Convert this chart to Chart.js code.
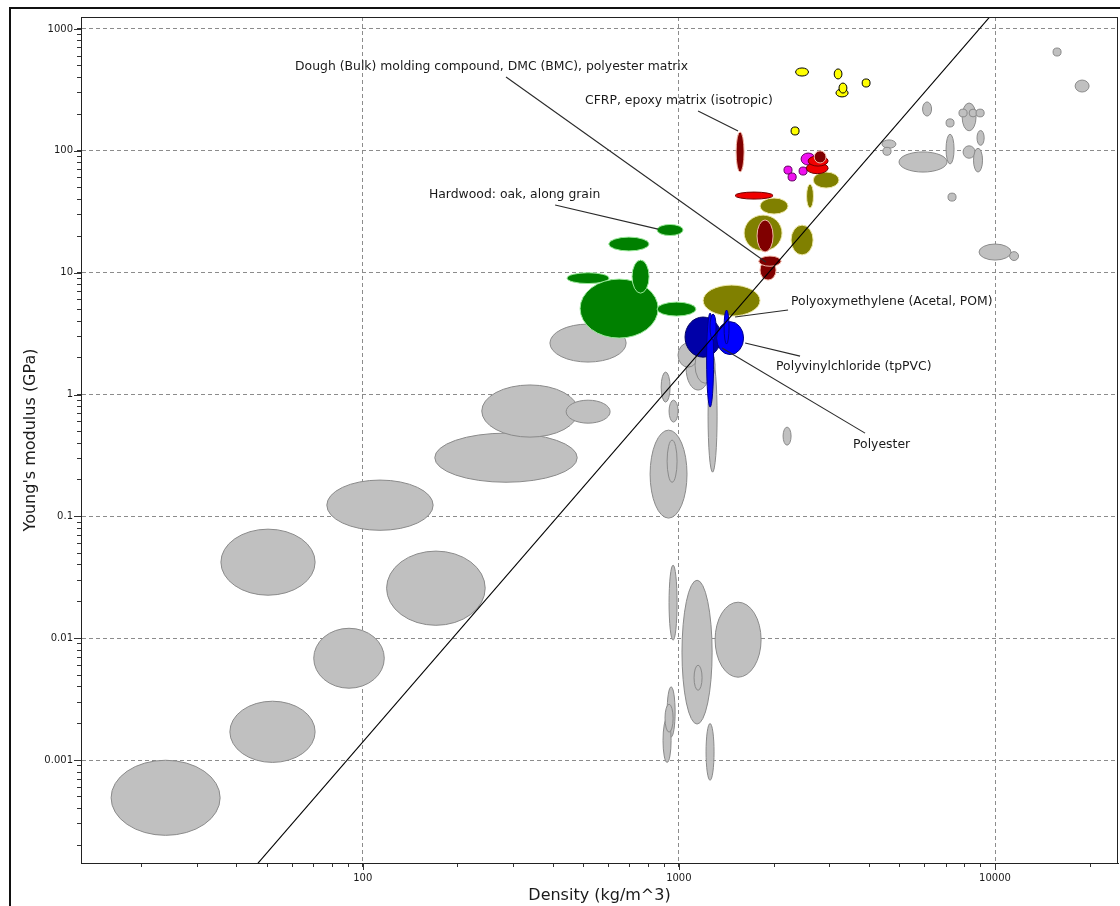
<!DOCTYPE html>
<html>
<head>
<meta charset="utf-8">
<script src="https://cdn.jsdelivr.net/npm/chart.js@4.4.1/dist/chart.umd.min.js"></script>
<style>
  html, body { margin: 0; padding: 0; background: #fff; overflow: hidden; }
  #wrap { position: relative; width: 1120px; height: 906px; }
  #frame { position: absolute; left: 9px; top: 7px; width: 1125px; height: 915px;
           border: 2px solid #111; box-sizing: border-box; pointer-events: none; }
</style>
</head>
<body>
<div id="wrap">
  <canvas id="chart" width="1120" height="906"></canvas>
  <div id="frame"></div>
</div>
<script>
// density ranges (kg/m^3) and Young's modulus ranges (GPa), one pair per material bubble
const otherDensity = [[16, 35.4], [38, 70.7], [70, 117], [35.6, 70.7], [119, 244], [77, 167], [169, 477],
  [238, 480], [440, 606], [391, 681], [811, 1061], [918, 987], [879, 938], [931, 994], [1237, 1321],
  [1054, 1255], [994, 1150], [1125, 1302], [2136, 2264], [931, 987], [1023, 1274], [1117, 1184],
  [1302, 1820], [918, 973], [891, 945], [904, 959], [1219, 1292], [15260, 16180], [17920, 19840],
  [5900, 6300], [7000, 7420], [7870, 8710], [7690, 8160], [8280, 8770], [8710, 9240], [8770, 9240],
  [7000, 7420], [7925, 8650], [8550, 9130], [4970, 7050], [4390, 4860], [4420, 4690], [7100, 7530],
  [8900, 11240], [11120, 11870]];
const otherModulus = [[0.000242, 0.001], [0.00096, 0.00305], [0.0039, 0.0121], [0.0226, 0.0787],
  [0.0128, 0.052], [0.077, 0.199], [0.191, 0.483], [0.448, 1.2], [0.583, 0.9], [1.85, 3.79],
  [0.097, 0.511], [0.191, 0.423], [0.868, 1.53], [0.595, 0.9], [0.231, 1.92], [1.09, 2.5],
  [1.68, 2.65], [1.24, 2.45], [0.385, 0.541], [0.00966, 0.0399], [0.00198, 0.03], [0.00375, 0.00602],
  [0.0048, 0.0198], [0.00155, 0.004], [0.00096, 0.0022], [0.0017, 0.00288], [0.000685, 0.002],
  [600, 698], [304, 381], [193, 252], [157, 183], [146, 247], [190, 220], [190, 220], [190, 220],
  [111, 147], [78, 137], [87, 110], [67, 105], [67, 98], [105, 123], [92, 107], [38.7, 45],
  [12.7, 17.2], [12.6, 14.9]];

const woodDensity = [[443, 601], [487, 860], [711, 805], [853, 1133], [600, 805], [853, 1031]];
const woodModulus = [[8.15, 10.0], [2.91, 8.87], [6.8, 12.7], [4.41, 5.74], [15.1, 19.6], [20.2, 24.9]];

const oliveDensity = [[1193, 1806], [1806, 2215], [1608, 2120], [2264, 2658], [2535, 2665], [2660, 3210]];
const oliveModulus = [[4.41, 7.92], [30.3, 41], [15.1, 29.7], [14, 24.6], [33.9, 53.4], [49.5, 67]];

const magentaDensity = [[2435, 2700], [2150, 2280], [2215, 2350], [2400, 2545]];
const magentaModulus = [[76.5, 96], [64.5, 75], [56.6, 65.8], [63.3, 73.7]];

const redDensity = [[1506, 1986], [2530, 2965], [2563, 2965]];
const redModulus = [[40.2, 45.9], [65, 80], [75, 91]];

const maroonDensity = [[1517, 1608], [1767, 1986], [1806, 2030], [1790, 2105], [2680, 2920]];
const maroonModulus = [[67, 143], [14.8, 27.1], [8.7, 12.7], [11.3, 13.7], [79.5, 100]];

const yellowDensity = [[2340, 2570], [3100, 3280], [3800, 4025], [3140, 3430], [3210, 3400], [2264, 2400]];
const yellowModulus = [[411, 479], [389, 470], [334, 389], [277, 322], [298, 360], [135, 157]];

const navyDensity = [[1046, 1360]];
const navyModulus = [[2.03, 4.33]];

const blueDensity = [[1316, 1602], [1224, 1288], [1390, 1441], [1255, 1311]];
const blueModulus = [[2.13, 3.97], [0.79, 4.67], [2.6, 4.94], [2.8, 4.58]];

// guide line E ~ rho^3
const guideDensity = [10, 30000];
const guideModulus = [1.41e-6, 38070];

const xTickLabels = [100, 1000, 10000];
const yTickLabels = [0.001, 0.01, 0.1, 1, 10, 100, 1000];

const noteText = ['Dough (Bulk) molding compound, DMC (BMC), polyester matrix',
  'CFRP, epoxy matrix (isotropic)', 'Hardwood: oak, along grain',
  'Polyoxymethylene (Acetal, POM)', 'Polyvinylchloride (tpPVC)', 'Polyester'];
const noteAt = [[61.1, 487], [505, 256], [162, 43.4], [2264, 5.74], [2030, 1.68], [3556, 0.385]];
const noteFrom = [[284, 404], [1150, 212], [406, 35.9], [2215, 4.94], [2417, 2.07], [3881, 0.483]];
const noteTo = [[1887, 12.2], [1539, 145.5], [859, 22.8], [1506, 4.33], [1620, 2.65], [1370, 2.41]];

function family(dens, mod, fill, edge) {
    return {
        data: dens.map((d, i) => ({ x: Math.sqrt(d[0] * d[1]), y: Math.sqrt(mod[i][0] * mod[i][1]) })),
        ranges: dens.map((d, i) => ({ d: d, e: mod[i] })),
        fill: fill,
        edge: edge,
        pointRadius: 0
    };
}

function logTicks(min, max) {
    const out = [];
    for (let e = Math.floor(Math.log10(min)); e <= Math.ceil(Math.log10(max)); e++) {
        for (let m = 1; m < 10; m++) {
            const v = m * Math.pow(10, e);
            if (v > min && v < max) out.push({ value: v });
        }
    }
    return out;
}

function isDecade(v) {
    const l = Math.log10(v);
    return Math.abs(l - Math.round(l)) < 1e-6;
}

const ellipsePlugin = {
    id: 'ellipses',
    beforeDatasetsDraw(chart) {
        const { ctx, chartArea: a, scales: { x, y } } = chart;
        ctx.save();
        ctx.beginPath();
        ctx.rect(a.left, a.top, a.right - a.left, a.bottom - a.top);
        ctx.clip();
        chart.data.datasets.forEach(ds => {
            if (!ds.ranges) return;
            ds.ranges.forEach(r => {
                const x0 = x.getPixelForValue(r.d[0]), x1 = x.getPixelForValue(r.d[1]);
                const y0 = y.getPixelForValue(r.e[0]), y1 = y.getPixelForValue(r.e[1]);
                ctx.beginPath();
                ctx.ellipse((x0 + x1) / 2, (y0 + y1) / 2, Math.abs(x1 - x0) / 2, Math.abs(y1 - y0) / 2, 0, 0, Math.PI * 2);
                ctx.fillStyle = ds.fill;
                ctx.fill();
                ctx.lineWidth = 1;
                ctx.strokeStyle = ds.edge;
                ctx.stroke();
            });
        });
        ctx.restore();
    },
    afterDatasetsDraw(chart) {
        const { ctx, chartArea: a, scales: { x, y } } = chart;
        ctx.save();
        // leader lines and labels
        ctx.strokeStyle = '#2a2a2a';
        ctx.lineWidth = 1.1;
        noteText.forEach((t, i) => {
            ctx.beginPath();
            ctx.moveTo(x.getPixelForValue(noteFrom[i][0]), y.getPixelForValue(noteFrom[i][1]));
            ctx.lineTo(x.getPixelForValue(noteTo[i][0]), y.getPixelForValue(noteTo[i][1]));
            ctx.stroke();
        });
        ctx.font = '12.4px "DejaVu Sans"';
        ctx.fillStyle = '#1a1a1a';
        ctx.textBaseline = 'middle';
        ctx.textAlign = 'left';
        noteText.forEach((t, i) => {
            ctx.fillText(t, x.getPixelForValue(noteAt[i][0]), y.getPixelForValue(noteAt[i][1]));
        });
        // plot box
        ctx.lineWidth = 1;
        ctx.strokeStyle = '#222';
        ctx.strokeRect(a.left + 0.5, a.top + 0.5, a.right - a.left - 1, a.bottom - a.top);
        // longer marks at the decades
        ctx.strokeStyle = '#333';
        ctx.beginPath();
        xTickLabels.forEach(v => {
            const px = Math.round(x.getPixelForValue(v)) + 0.5;
            ctx.moveTo(px, a.bottom);
            ctx.lineTo(px, a.bottom + 7);
        });
        yTickLabels.forEach(v => {
            const py = Math.round(y.getPixelForValue(v)) + 0.5;
            ctx.moveTo(a.left, py);
            ctx.lineTo(a.left - 7, py);
        });
        ctx.stroke();
        ctx.restore();
    }
};

const axisCommon = {
    type: 'logarithmic',
    ticks: {
        autoSkip: false,
        maxRotation: 0,
        color: '#1a1a1a',
        font: { family: 'DejaVu Sans', size: 10 }
    },
    grid: {
        color: c => (c.tick && isDecade(c.tick.value)) ? '#8c8c8c' : 'rgba(0,0,0,0)',
        tickColor: '#333',
        tickLength: 4,
        lineWidth: 1
    },
    border: { display: true, color: '#222', dash: [4, 3] }
};

const ctx = document.getElementById('chart');
new Chart(ctx, {
    type: 'scatter',
    data: {
        datasets: [
            {
                data: guideDensity.map((d, i) => ({ x: d, y: guideModulus[i] })),
                showLine: true,
                borderColor: '#000',
                borderWidth: 1.1,
                pointRadius: 0
            },
            family(otherDensity, otherModulus, '#c0c0c0', '#8a8a8a'),
            family(woodDensity, woodModulus, '#008000', '#9be89b'),
            family(oliveDensity, oliveModulus, '#808000', '#eee8aa'),
            family(magentaDensity, magentaModulus, '#f010f0', '#600060'),
            family(redDensity, redModulus, '#f00000', '#700000'),
            family(maroonDensity, maroonModulus, '#800000', '#f2b8a8'),
            family(yellowDensity, yellowModulus, '#ffff00', '#000000'),
            family(navyDensity, navyModulus, '#0000a8', '#000060'),
            family(blueDensity, blueModulus, '#0000ff', '#00008b')
        ]
    },
    options: {
        responsive: false,
        animation: false,
        events: [],
        layout: { padding: { top: 17, right: 2, left: 0, bottom: 0 } },
        plugins: {
            legend: { display: false },
            tooltip: { enabled: false }
        },
        scales: {
            x: Object.assign({}, axisCommon, {
                min: 12.85,
                max: 24490,
                afterFit: s => { s.height = 43; },
                afterBuildTicks: s => { s.ticks = logTicks(s.min, s.max); },
                ticks: Object.assign({}, axisCommon.ticks, {
                    padding: 5,
                    callback: v => xTickLabels.some(t => Math.abs(t - v) / t < 1e-6) ? String(v) : ''
                }),
                title: {
                    display: true,
                    text: 'Density (kg/m^3)',
                    color: '#1a1a1a',
                    font: { family: 'DejaVu Sans', size: 16 },
                    padding: { top: 0, bottom: 1 }
                }
            }),
            y: Object.assign({}, axisCommon, {
                min: 0.0001435,
                max: 1254,
                afterFit: s => { s.width = 81; },
                afterBuildTicks: s => { s.ticks = logTicks(s.min, s.max); },
                ticks: Object.assign({}, axisCommon.ticks, {
                    padding: 4,
                    callback: v => yTickLabels.some(t => Math.abs(t - v) / t < 1e-6) ? String(v) : ''
                }),
                title: {
                    display: true,
                    text: "Young's modulus (GPa)",
                    color: '#1a1a1a',
                    font: { family: 'DejaVu Sans', size: 16 },
                    padding: { top: 21, bottom: 0 }
                }
            })
        }
    },
    plugins: [ellipsePlugin]
});
</script>
</body>
</html>
